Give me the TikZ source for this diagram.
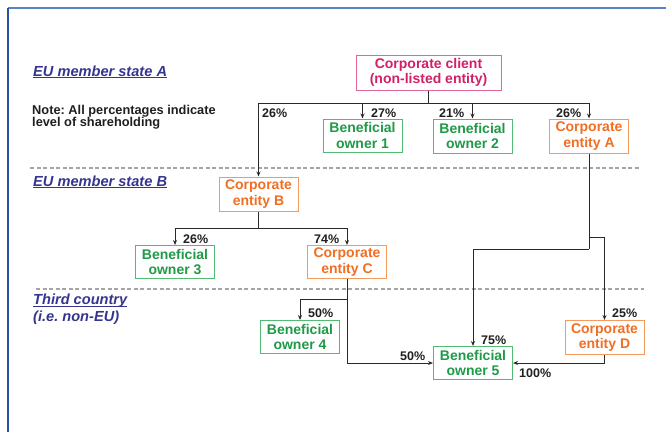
\documentclass[tikz,border=0pt]{standalone}
\usepackage{fontspec}
\setmainfont{Liberation Sans}
\usetikzlibrary{arrows.meta}
\definecolor{pinkT}{HTML}{D21F68}
\definecolor{pinkB}{HTML}{E2669A}
\definecolor{greenT}{HTML}{1F9A48}
\definecolor{greenB}{HTML}{52BA72}
\definecolor{orangeT}{HTML}{F26E22}
\definecolor{orangeB}{HTML}{F59A5C}
\definecolor{regionC}{HTML}{35358F}
\definecolor{lineC}{HTML}{2A2A2A}
\definecolor{dashC}{HTML}{A5A5A5}
\definecolor{frameL}{HTML}{2A52A8}
\definecolor{frameT}{HTML}{5A82C4}
\newcommand\myul[1]{\setbox0\hbox{#1}\rlap{\rule[-2pt]{\wd0}{0.9pt}}\box0}
\frenchspacing
\begin{document}
\begin{tikzpicture}[x=1pt,y=-1pt,
  box/.style={draw, line width=1pt, fill=white, align=center, inner sep=0pt,
    minimum width=79pt, minimum height=34pt,
    font=\fontsize{14}{15.5}\selectfont\bfseries},
  pinkbox/.style={box, draw=pinkB, text=pinkT},
  greenbox/.style={box, draw=greenB, text=greenT},
  orangebox/.style={box, draw=orangeB, text=orangeT},
  conn/.style={draw=lineC, line width=0.9pt},
  arr/.style={conn, -{Stealth[length=5pt,width=4pt]}},
  pct/.style={anchor=west, inner sep=0pt, text=black!88,
    font=\fontsize{12.5}{13}\selectfont\bfseries},
  region/.style={anchor=west, inner sep=0pt, text=regionC, align=left,
    font=\fontsize{14.6}{16.5}\selectfont\bfseries\itshape},
  note/.style={anchor=west, inner sep=0pt, text=black!88, align=left,
    font=\fontsize{12.8}{12.5}\selectfont\bfseries},
  sep/.style={draw=dashC, line width=1.1pt, dash pattern=on 4pt off 2.5pt}
]
\useasboundingbox (0,0) rectangle (666,432);
% frame
\draw[frameT, line width=2pt] (8,8) -- (666,8);
\draw[frameL, line width=2pt] (8,8) -- (8,432);
% separators
\draw[sep] (30,168) -- (639,168);
\draw[sep] (36,289) -- (644,289);
% region labels
\node[region] (regA) at (33,72) {\myul{EU member state A}};
\node[region] (regB) at (33,182) {\myul{EU member state B}};
\node[region, anchor=north west] (regC) at (33,294) {\myul{Third country}\\(i.e. non-EU)};
\node[note] (note) at (32,117) {Note: All percentages indicate\\level of shareholding};
% boxes
\node[pinkbox, minimum width=145pt, minimum height=35pt] (cc) at (428.5,72.5) {Corporate client\\(non-listed entity)};
\node[greenbox, minimum height=33pt] (bo1) at (362.5,135.5) {Beneficial\\owner 1};
\node[greenbox] (bo2) at (472.5,136) {Beneficial\\owner 2};
\node[orangebox] (cea) at (589,136) {Corporate\\entity A};
\node[orangebox] (ceb) at (258.5,194) {Corporate\\entity B};
\node[greenbox, minimum height=33pt] (bo3) at (175,262) {Beneficial\\owner 3};
\node[orangebox, minimum height=33pt] (cec) at (347,262) {Corporate\\entity C};
\node[greenbox, minimum height=33pt] (bo4) at (300,337) {Beneficial\\owner 4};
\node[greenbox, minimum height=33pt] (bo5) at (473,363) {Beneficial\\owner 5};
\node[orangebox] (ced) at (604.5,337.5) {Corporate\\entity D};
% top level connectors
\coordinate (busL) at (258.5,103);
\coordinate (busM) at (428.5,103);
\coordinate (busR) at (589,103);
\draw[conn] (cc.south) -- (busM);
\draw[conn] (busL) -- (busR);
\draw[arr] (busL) -- (ceb.north);
\draw[arr] (bo1.north |- busL) -- (bo1.north);
\draw[arr] (bo2.north |- busL) -- (bo2.north);
\draw[arr] (busR) -- (cea.north);
% entity B
\coordinate (jB) at (258.5,228);
\draw[conn] (ceb.south) -- (jB);
\draw[arr] (jB) -| (bo3.north);
\draw[arr] (jB) -| (cec.north);
% entity A
\coordinate (jA1) at (589,237);
\coordinate (jA2) at (589,249);
\draw[conn] (cea.south) -- (jA2);
\draw[arr] (jA1) -| (ced.north);
\draw[arr] (jA2) -| (bo5.north);
% entity C
\coordinate (jC) at (347,299);
\draw[arr] (cec.south) |- (bo5.west);
\draw[arr] (jC) -| (bo4.north);
% entity D
\draw[arr] (ced.south) |- (bo5.east);
% percentages
\node[pct] (p1) at (262,113) {26\%};
\node[pct] (p2) at (371,113) {27\%};
\node[pct] (p3) at (439,113) {21\%};
\node[pct] (p4) at (556,113) {26\%};
\node[pct] (p5) at (183,239) {26\%};
\node[pct] (p6) at (314,239) {74\%};
\node[pct] (p7) at (308,313) {50\%};
\node[pct] (p8) at (612,313) {25\%};
\node[pct] (p9) at (481,340) {75\%};
\node[pct] (p10) at (400,356) {50\%};
\node[pct] (p11) at (519,373) {100\%};
\end{tikzpicture}
\end{document}
